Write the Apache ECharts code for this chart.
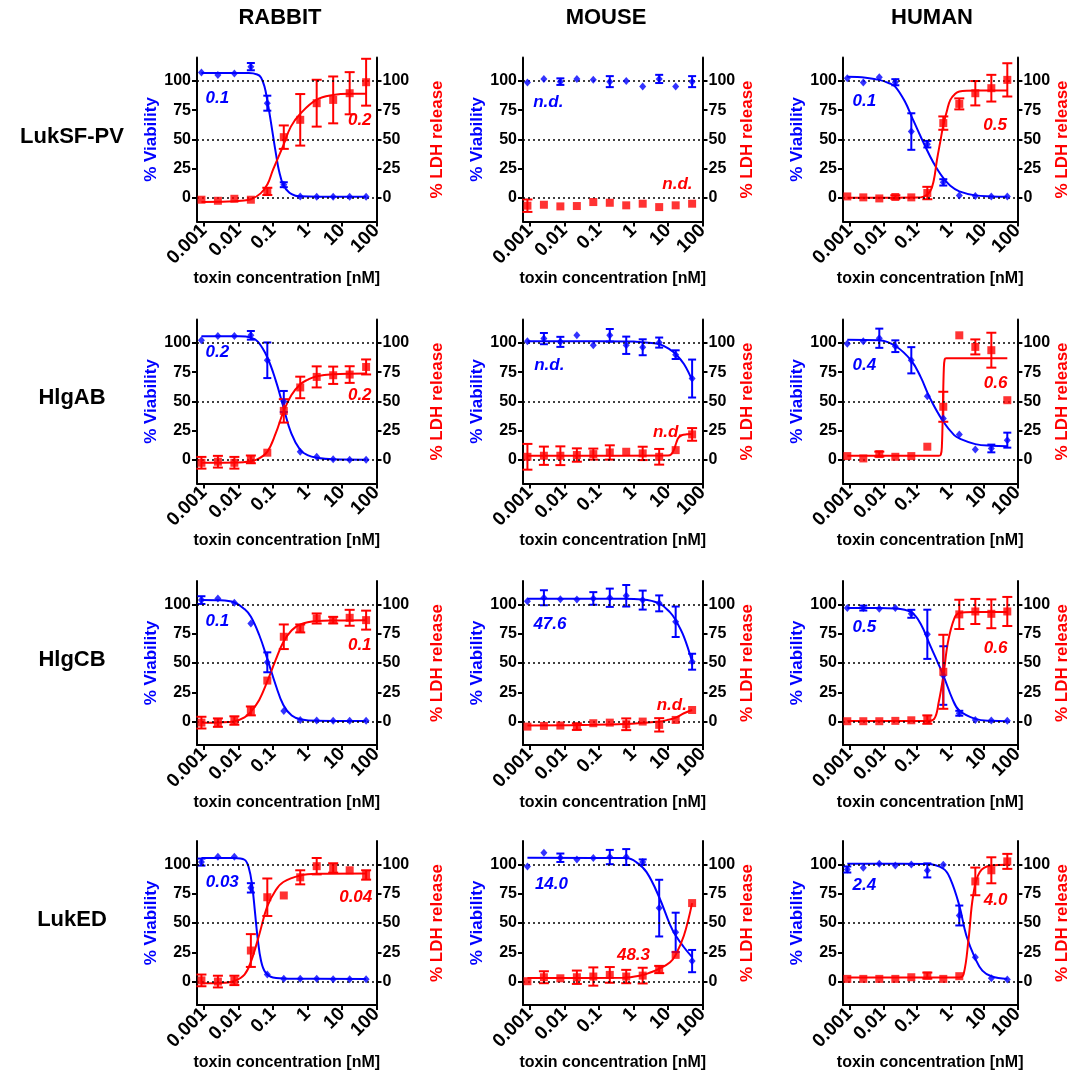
<!DOCTYPE html>
<html>
<head>
<meta charset="utf-8">
<script src="https://cdn.jsdelivr.net/npm/echarts@6/dist/echarts.min.js"></script>
<style>
html, body { margin: 0; padding: 0; background: #fff; }
#main { width: 1072px; height: 1073px; }
</style>
</head>
<body>
<div id="main"></div>
<script>
// toxin concentrations (nM), 3-fold dilutions from 50 nM
var conc = [0.000847, 0.00254, 0.00762, 0.0229, 0.0686, 0.206, 0.617, 1.85, 5.56, 16.7, 50];
var xTicks = [0.001, 0.01, 0.1, 1, 10, 100];
var yTicks = [0, 25, 50, 75, 100];
var gridLines = [0, 50, 100];
var species = ['RABBIT', 'MOUSE', 'HUMAN'];
var toxins = ['LukSF-PV', 'HlgAB', 'HlgCB', 'LukED'];

// ---- LukSF-PV ----
var rabSF_via = [107.1, 105.1, 106.3, 112.2, 81, 11.4, 1.4, 1.2, 1.2, 1.2, 1.2];
var rabSF_viaErr = [0, 0, 0, 3.1, 6.4, 2.1, 0, 0, 0, 0, 0];
var rabSF_ldh = [-1.4, -2.3, -0.6, -1.4, 5.7, 52, 66.8, 81, 83.8, 89.5, 98.9];
var rabSF_ldhErr = [0, 0, 0, 0, 3.1, 10, 22, 20, 20, 18, 20];
var rabSF_viaFit = [[0.000847, 106.8], [0.02, 106.7], [0.035, 105.5], [0.045, 103], [0.057, 95], [0.068, 84], [0.085, 67], [0.102, 52], [0.125, 36], [0.148, 24], [0.2, 11], [0.3, 4.5], [0.45, 2], [0.62, 1.5], [2, 1.2], [50, 1.2]];
var rabSF_ldhFit = [[0.000847, -3.3], [0.005, -3], [0.012, -2.2], [0.023, -1], [0.044, 4], [0.07, 12], [0.1, 24], [0.2, 45], [0.33, 61], [0.62, 72], [1.85, 84], [5.56, 88], [16.7, 89], [50, 89]];
var rabSF_notes = ['0.1', '0.2'];

var mouSF_via = [98.6, 101.7, 99.4, 101.7, 100.9, 99.4, 100, 95.2, 101.7, 95.2, 99.4];
var mouSF_viaErr = [0, 0, 2.8, 0, 0, 4.7, 0, 0, 3.5, 0, 4.7];
var mouSF_ldh = [-6.5, -5.7, -7.1, -6.8, -3.4, -4, -6.2, -4.8, -7.7, -6.2, -4.8];
var mouSF_ldhErr = [5.3, 0, 0, 0, 0, 0, 0, 0, 0, 0, 0];
var mouSF_viaFit = [];
var mouSF_ldhFit = [];
var mouSF_notes = ['n.d.', 'n.d.'];

var humSF_via = [102.3, 98.6, 103.1, 98.9, 56.8, 46, 13.4, 2.3, 1.7, 1.4, 1.4];
var humSF_viaErr = [0, 0, 0, 2.6, 15.6, 2.8, 2.7, 0, 0, 0, 0];
var humSF_ldh = [1.4, 0.6, -0.3, 0.9, 0.6, 4.3, 64, 80.4, 89.5, 93.8, 100.9];
var humSF_ldhErr = [0, 0, 0, 1.5, 0, 5.3, 5.7, 4.7, 10.4, 11.4, 14.2];
var humSF_viaFit = [[0.000847, 103.5], [0.003, 102.8], [0.0076, 100.9], [0.015, 98], [0.023, 95], [0.045, 82], [0.07, 69.6], [0.13, 52.6], [0.25, 35.5], [0.4, 25], [0.62, 17], [1.0, 10.5], [1.85, 5.7], [5.56, 2.3], [16.7, 1.4], [50, 1.1]];
var humSF_ldhFit = [[0.000847, 0.3], [0.1, 0.4], [0.16, 1.2], [0.25, 5.7], [0.32, 15], [0.4, 32.7], [0.5, 48], [0.62, 62.5], [0.8, 75], [1.0, 83.8], [1.4, 89], [1.85, 91], [3, 91.7], [50, 91.8]];
var humSF_notes = ['0.1', '0.5'];

// ---- HlgAB ----
var rabAB_via = [102.3, 106, 106, 106.5, 85.2, 50, 7.1, 2.8, 0.6, 0.3, 0.3];
var rabAB_viaErr = [0, 0, 0, 3.7, 15.2, 9, 0, 0, 0, 0, 0];
var rabAB_ldh = [-2.3, -1.4, -2.3, 0.6, 6.3, 42, 62, 71, 72.4, 73, 79.5];
var rabAB_ldhErr = [5, 5, 5, 3.3, 0, 10, 9.2, 9, 7.4, 7.1, 6.4];
var rabAB_viaFit = [[0.000847, 105.7], [0.01, 105.6], [0.023, 104.5], [0.037, 100.9], [0.068, 88], [0.12, 68], [0.2, 45.5], [0.34, 22.7], [0.62, 8.5], [1.0, 4.2], [1.85, 2], [5.56, 0.6], [50, 0.3]];
var rabAB_ldhFit = [[0.000847, -2.3], [0.01, -2.1], [0.02, -1.2], [0.035, 0.5], [0.068, 7], [0.12, 22.7], [0.2, 41.2], [0.34, 55.4], [0.62, 64.8], [1.0, 68.5], [1.85, 71.6], [5.56, 73.3], [50, 73.9]];
var rabAB_notes = ['0.2', '0.2'];

var mouAB_via = [101.4, 103.7, 100.9, 106.5, 98, 106.5, 98, 96.3, 100.3, 90, 69.6];
var mouAB_viaErr = [0, 4.8, 4.3, 0, 0, 5.4, 7.4, 6.8, 4.3, 3.7, 16.2];
var mouAB_ldh = [2.8, 3.7, 3.7, 4.3, 5.1, 6.5, 7.1, 5.7, 2.8, 8.5, 21.9];
var mouAB_ldhErr = [11, 7.8, 8, 5.7, 4.7, 6.1, 0, 5.7, 6.7, 0, 5.4];
var mouAB_viaFit = [[0.000847, 101.5], [0.1, 101.5], [1, 101.2], [1.85, 100.5], [5.56, 99], [11.5, 94.3], [16.7, 90.5], [29, 82], [50, 68.2]];
var mouAB_ldhFit = [[0.000847, 3.7], [10, 3.8], [12.5, 5], [15, 9], [17.5, 15], [20, 19], [25, 21.2], [35, 22], [50, 22.2]];
var mouAB_notes = ['n.d.', 'n.d.'];

var humAB_via = [99.4, 101.4, 104, 97.2, 85.2, 54.5, 35.5, 21.9, 9.1, 9.9, 17];
var humAB_viaErr = [0, 0, 8.2, 5, 11.2, 0, 0, 0, 0, 3.3, 6.4];
var humAB_ldh = [3.4, 1.4, 5.1, 2.8, 3.4, 11.4, 45.5, 106.5, 96.6, 93.8, 51.1];
var humAB_ldhErr = [0, 0, 2.1, 0, 0, 0, 12.8, 0, 6.4, 14.9, 0];
var humAB_viaFit = [[0.000847, 102.8], [0.0076, 102.3], [0.023, 97.4], [0.068, 85], [0.13, 71], [0.25, 52.6], [0.62, 32.7], [1.3, 21.3], [1.85, 18.5], [5.56, 13.6], [16.7, 12.2], [50, 11.9]];
var humAB_ldhFit = [[0.000847, 3.7], [0.45, 3.7], [0.52, 4.5], [0.56, 12], [0.6, 45], [0.64, 78], [0.68, 86], [0.75, 87], [50, 87]];
var humAB_notes = ['0.4', '0.6'];

// ---- HlgCB ----
var rabCB_via = [103.7, 105.1, 101.4, 83.8, 50.6, 9.1, 1.4, 0.9, 0.6, 0.6, 0.6];
var rabCB_viaErr = [3.3, 0, 0, 0, 8.5, 0, 0, 0, 0, 0, 0];
var rabCB_ldh = [-0.9, -0.9, 0.9, 9.1, 35, 72.4, 79.5, 88, 86.6, 88.6, 86.6];
var rabCB_ldhErr = [5, 3.6, 3.6, 3.8, 0, 10.5, 3.4, 4.3, 2.8, 6.8, 8.1];
var rabCB_viaFit = [[0.000847, 103.7], [0.003, 103.5], [0.0076, 101.7], [0.015, 96], [0.023, 89.5], [0.04, 73.9], [0.068, 54], [0.12, 31.2], [0.2, 14.2], [0.35, 5.1], [0.62, 2], [1.85, 0.6], [50, 0.5]];
var rabCB_ldhFit = [[0.000847, -0.9], [0.003, -0.7], [0.0076, 0.2], [0.015, 3.5], [0.023, 8.5], [0.04, 18.5], [0.068, 34], [0.12, 52.6], [0.2, 68], [0.35, 78], [0.62, 83], [1.85, 85.8], [5.56, 86.3], [50, 86.4]];
var rabCB_notes = ['0.1', '0.1'];

var mouCB_via = [102.8, 105.7, 104.5, 104.3, 105.1, 105.7, 107.4, 103.7, 100.9, 85.2, 51.1];
var mouCB_viaErr = [0, 6.4, 0, 0, 5.4, 7.8, 9.2, 8.1, 6.8, 13, 6.8];
var mouCB_ldh = [-4.3, -3.7, -3.4, -4.3, -1.4, -0.9, -2.3, 0, -2.8, 1.4, 9.9];
var mouCB_ldhErr = [0, 0, 0, 2.8, 0, 0, 5, 0, 5.7, 0, 0];
var mouCB_viaFit = [[0.000847, 104.8], [0.5, 104.8], [1.85, 104.3], [5.56, 100.9], [11.5, 93.2], [16.7, 86.6], [29, 72.4], [50, 51.1]];
var mouCB_ldhFit = [[0.000847, -3.4], [0.07, -2.8], [0.62, -2], [1.85, -1.1], [5.56, 0], [10, 1.5], [16.7, 3.4], [29, 7.1], [50, 9.9]];
var mouCB_notes = ['47.6', 'n.d.'];

var humCB_via = [96.9, 96.9, 96.3, 96.9, 92, 74.5, 39.3, 7.1, 1.4, 0.9, 0.6];
var humCB_viaErr = [0, 2.1, 0, 0, 3.4, 21, 25, 2.1, 0, 0, 0];
var humCB_ldh = [0.3, 0.3, 0.3, 0.6, 1.1, 1.7, 42.5, 91.5, 94, 92, 94];
var humCB_ldhErr = [0, 0, 0, 0, 0, 3.6, 31.6, 12.5, 10.7, 12.3, 12.4];
var humCB_viaFit = [[0.000847, 96.9], [0.0076, 96.9], [0.023, 96.6], [0.068, 93.4], [0.13, 83.5], [0.25, 65], [0.62, 39.3], [1.15, 19.4], [1.85, 9.4], [5.56, 2.3], [16.7, 0.6], [50, 0.3]];
var humCB_ldhFit = [[0.000847, 0.5], [0.2, 0.5], [0.33, 2.3], [0.45, 16.5], [0.62, 39.3], [0.85, 67.8], [1.3, 87.7], [1.85, 92.6], [5, 93.5], [50, 93.5]];
var humCB_notes = ['0.5', '0.6'];

// ---- LukED ----
var rabED_via = [102, 106.5, 106.5, 80, 6, 2.5, 2.5, 2.5, 2, 2, 2];
var rabED_viaErr = [3, 0, 0, 4, 0, 0, 0, 0, 0, 0, 0];
var rabED_ldh = [1, 0, 1, 26.5, 72, 73.5, 89, 98.5, 97, 95, 91];
var rabED_ldhErr = [5, 5, 4, 14, 16, 0, 6, 7, 4, 0, 4];
var rabED_viaFit = [[0.000847, 105.5], [0.0076, 105.5], [0.015, 104], [0.02, 97], [0.025, 82], [0.03, 60], [0.036, 37], [0.045, 18], [0.06, 8], [0.1, 3.5], [0.3, 2.5], [50, 2.3]];
var rabED_ldhFit = [[0.000847, -1.5], [0.004, -1], [0.0076, 0.5], [0.015, 6], [0.023, 17], [0.04, 40], [0.068, 64], [0.12, 78], [0.2, 85], [0.62, 90.5], [1.85, 92], [50, 92.3]];
var rabED_notes = ['0.03', '0.04'];

var mouED_via = [98.3, 110, 105.7, 104.3, 105.4, 106.3, 106.3, 102, 62.7, 42, 17.5];
var mouED_viaErr = [0, 0, 3.6, 0, 0, 6.1, 6.8, 2.3, 24.2, 16.8, 9.5];
var mouED_ldh = [0.3, 3.7, 2.8, 3.7, 4.3, 5.7, 4.3, 5.1, 10.3, 22.8, 67];
var mouED_ldhErr = [0, 5.1, 0, 5.7, 7.8, 6.7, 5.7, 6.7, 3.1, 0, 0];
var mouED_viaFit = [[0.000847, 105.7], [0.62, 105.4], [1.2, 102], [2.4, 93.4], [5.56, 72], [11.5, 48.4], [16.7, 39.3], [29, 29.3], [50, 20.8]];
var mouED_ldhFit = [[0.000847, 3], [0.5, 3.2], [1.6, 5.1], [3.2, 8], [5.56, 10.8], [11.5, 16.5], [16.7, 22.8], [29, 39.3], [50, 67]];
var mouED_notes = ['14.0', '48.3'];

var humED_via = [95.7, 97.2, 100.6, 99.1, 100, 94.9, 99.7, 56.4, 20.8, 2.8, 1.7];
var humED_viaErr = [2.6, 0, 0, 0, 0, 6, 0, 8.5, 0, 0, 0];
var humED_ldh = [2.3, 2.3, 2.3, 2.3, 3.7, 5.1, 2.3, 4.6, 85.5, 95, 102.6];
var humED_ldhErr = [0, 0, 0, 0, 0, 2.6, 0, 0, 11.8, 11.1, 6.4];
var humED_viaFit = [[0.000847, 100.6], [0.2, 100.3], [0.62, 96.3], [1.0, 87.7], [1.85, 65], [3.0, 39.3], [5.56, 19.4], [9, 9.4], [16.7, 4.6], [50, 2.3]];
var humED_ldhFit = [[0.000847, 3.4], [1.85, 3.5], [2.5, 6.5], [3.5, 36.5], [4.8, 73.5], [7.5, 93.4], [16.7, 99.1], [50, 99.7]];
var humED_notes = ['2.4', '4.0'];

var BLUE = '#0000ff', RED = '#ff0000';
var FONT = '"Liberation Sans", Arial, sans-serif';

var colLeft = [197, 523, 843];
var rowTop = [57.5, 319.5, 581, 841];
var gridW = 179.5, gridH = 164;
var rightNameGap = [52, 31, 31];

// row, col, data, note positions [x, y] for blue and red note
var panels = [
  { r: 0, c: 0, via: rabSF_via, viaErr: rabSF_viaErr, ldh: rabSF_ldh, ldhErr: rabSF_ldhErr, viaFit: rabSF_viaFit, ldhFit: rabSF_ldhFit, notes: rabSF_notes, notePos: [[0.00244, 85], [32.7, 66.8]] },
  { r: 0, c: 1, via: mouSF_via, viaErr: mouSF_viaErr, ldh: mouSF_ldh, ldhErr: mouSF_ldhErr, viaFit: mouSF_viaFit, ldhFit: mouSF_ldhFit, notes: mouSF_notes, notePos: [[0.0034, 81.5], [18.8, 11.4]] },
  { r: 0, c: 2, via: humSF_via, viaErr: humSF_viaErr, ldh: humSF_ldh, ldhErr: humSF_ldhErr, viaFit: humSF_viaFit, ldhFit: humSF_ldhFit, notes: humSF_notes, notePos: [[0.00272, 82.4], [21.6, 62.5]] },
  { r: 1, c: 0, via: rabAB_via, viaErr: rabAB_viaErr, ldh: rabAB_ldh, ldhErr: rabAB_ldhErr, viaFit: rabAB_viaFit, ldhFit: rabAB_ldhFit, notes: rabAB_notes, notePos: [[0.00244, 92.3], [32.7, 55.4]] },
  { r: 1, c: 1, via: mouAB_via, viaErr: mouAB_viaErr, ldh: mouAB_ldh, ldhErr: mouAB_ldhErr, viaFit: mouAB_viaFit, ldhFit: mouAB_ldhFit, notes: mouAB_notes, notePos: [[0.00363, 81], [10, 24.1]] },
  { r: 1, c: 2, via: humAB_via, viaErr: humAB_viaErr, ldh: humAB_ldh, ldhErr: humAB_ldhErr, viaFit: humAB_viaFit, ldhFit: humAB_ldhFit, notes: humAB_notes, notePos: [[0.00272, 81], [22.4, 65.9]] },
  { r: 2, c: 0, via: rabCB_via, viaErr: rabCB_viaErr, ldh: rabCB_ldh, ldhErr: rabCB_ldhErr, viaFit: rabCB_viaFit, ldhFit: rabCB_ldhFit, notes: rabCB_notes, notePos: [[0.00244, 85.2], [32.7, 65.3]] },
  { r: 2, c: 1, via: mouCB_via, viaErr: mouCB_viaErr, ldh: mouCB_ldh, ldhErr: mouCB_ldhErr, viaFit: mouCB_viaFit, ldhFit: mouCB_ldhFit, notes: mouCB_notes, notePos: [[0.0038, 83], [12.9, 14.2]] },
  { r: 2, c: 2, via: humCB_via, viaErr: humCB_viaErr, ldh: humCB_ldh, ldhErr: humCB_ldhErr, viaFit: humCB_viaFit, ldhFit: humCB_ldhFit, notes: humCB_notes, notePos: [[0.00272, 80.6], [22.4, 62.7]] },
  { r: 3, c: 0, via: rabED_via, viaErr: rabED_viaErr, ldh: rabED_ldh, ldhErr: rabED_ldhErr, viaFit: rabED_viaFit, ldhFit: rabED_ldhFit, notes: rabED_notes, notePos: [[0.0034, 85], [25, 72]] },
  { r: 3, c: 1, via: mouED_via, viaErr: mouED_viaErr, ldh: mouED_ldh, ldhErr: mouED_ldhErr, viaFit: mouED_viaFit, ldhFit: mouED_ldhFit, notes: mouED_notes, notePos: [[0.0042, 82.6], [1.0, 22.8]] },
  { r: 3, c: 2, via: humED_via, viaErr: humED_viaErr, ldh: humED_ldh, ldhErr: humED_ldhErr, viaFit: humED_viaFit, ldhFit: humED_ldhFit, notes: humED_notes, notePos: [[0.00272, 82], [22.4, 69.2]] }
];

function pts(ys) {
  return conc.map(function (x, k) { return [x, ys[k]]; });
}
function bars(ys, es) {
  var out = [];
  conc.forEach(function (x, k) {
    if (es[k] > 0) out.push([x, ys[k] - es[k], ys[k] + es[k]]);
  });
  return out;
}
function errRender(cap) {
  return function (params, api) {
    var top = api.coord([api.value(0), api.value(2)]);
    var bot = api.coord([api.value(0), api.value(1)]);
    var st = { stroke: api.visual('color'), lineWidth: 2 };
    return {
      type: 'group',
      children: [
        { type: 'line', shape: { x1: top[0], y1: top[1], x2: bot[0], y2: bot[1] }, style: st },
        { type: 'line', shape: { x1: top[0] - cap, y1: top[1], x2: top[0] + cap, y2: top[1] }, style: st },
        { type: 'line', shape: { x1: bot[0] - cap, y1: bot[1], x2: bot[0] + cap, y2: bot[1] }, style: st }
      ]
    };
  };
}

var axisLine = { show: true, onZero: false, lineStyle: { color: '#000', width: 2 } };
var tickLbl = { fontSize: 16, fontWeight: 'bold', color: '#000', fontFamily: FONT };

var grids = [], xAxes = [], yAxes = [], series = [];

panels.forEach(function (p, i) {
  grids.push({ left: colLeft[p.c], top: rowTop[p.r], width: gridW, height: gridH });
  xAxes.push({
    type: 'log', logBase: 10, gridIndex: i, min: 0.00063, max: 100,
    axisLine: axisLine,
    axisTick: { show: true, customValues: xTicks, length: 5, lineStyle: { color: '#000', width: 2 } },
    minorTick: { show: false },
    axisLabel: Object.assign({}, tickLbl, { customValues: xTicks, rotate: 45, margin: 6, fontSize: 19,
      formatter: function (v) { return String(+(+v).toPrecision(6)); } }),
    splitLine: { show: false },
    name: 'toxin concentration [nM]', nameLocation: 'middle', nameGap: 43,
    nameTextStyle: { fontSize: 16, fontWeight: 'bold', color: '#000', fontFamily: FONT }
  });
  [['left', '% Viability', BLUE, 37], ['right', '% LDH release', RED, rightNameGap[p.c]]].forEach(function (a) {
    yAxes.push({
      type: 'value', gridIndex: i, position: a[0], min: -20, max: 120,
      axisLine: axisLine,
      axisTick: { show: true, customValues: yTicks, length: 5, lineStyle: { color: '#000', width: 2 } },
      axisLabel: Object.assign({ customValues: yTicks, margin: 6 }, tickLbl),
      splitLine: { show: false },
      name: a[1], nameLocation: 'middle', nameGap: a[3],
      nameTextStyle: { fontSize: 17, fontWeight: 'bold', color: a[2], fontFamily: FONT }
    });
  });
  var yl = 2 * i, yr = 2 * i + 1;
  var noteLabel = function (col) {
    return { show: true, position: 'inside', color: col, fontSize: 17, fontWeight: 'bold', fontStyle: 'italic', fontFamily: FONT };
  };
  series.push({
    type: 'line', xAxisIndex: i, yAxisIndex: yl, data: p.viaFit, smooth: 0.4, showSymbol: false,
    lineStyle: { color: BLUE, width: 2 }, z: 3
  });
  series.push({
    type: 'line', xAxisIndex: i, yAxisIndex: yr, data: p.ldhFit, smooth: 0.4, showSymbol: false,
    lineStyle: { color: RED, width: 2 }, z: 3
  });
  series.push({
    type: 'custom', xAxisIndex: i, yAxisIndex: yl, data: bars(p.via, p.viaErr),
    encode: { x: 0, y: [1, 2] }, renderItem: errRender(4), itemStyle: { color: BLUE }, z: 4
  });
  series.push({
    type: 'custom', xAxisIndex: i, yAxisIndex: yr, data: bars(p.ldh, p.ldhErr),
    encode: { x: 0, y: [1, 2] }, renderItem: errRender(5), itemStyle: { color: RED }, z: 4
  });
  series.push({
    type: 'scatter', xAxisIndex: i, yAxisIndex: yl, data: pts(p.via),
    symbol: 'diamond', symbolSize: [7, 8], itemStyle: { color: BLUE }, z: 5,
    markLine: {
      silent: true, symbol: 'none', label: { show: false },
      lineStyle: { color: '#000', type: [2, 3], width: 1.5 },
      data: gridLines.map(function (v) { return { yAxis: v }; })
    },
    markPoint: {
      symbol: 'circle', symbolSize: 1, itemStyle: { color: 'rgba(0,0,0,0)' },
      data: [{ coord: p.notePos[0], value: p.notes[0], label: Object.assign(noteLabel(BLUE), { formatter: p.notes[0] }) }]
    }
  });
  series.push({
    type: 'scatter', xAxisIndex: i, yAxisIndex: yr, data: pts(p.ldh),
    symbol: 'rect', symbolSize: 8, itemStyle: { color: RED }, z: 5,
    markPoint: {
      symbol: 'circle', symbolSize: 1, itemStyle: { color: 'rgba(0,0,0,0)' },
      data: [{ coord: p.notePos[1], value: p.notes[1], label: Object.assign(noteLabel(RED), { formatter: p.notes[1] }) }]
    }
  });
});

var headX = [280, 606, 932];
var rowY = [137, 398, 660, 920];
var graphic = [];
species.forEach(function (s, c) {
  graphic.push({ type: 'text', x: headX[c], y: 18,
    style: { text: s, fontSize: 22, fontWeight: 'bold', fill: '#000', fontFamily: FONT, textAlign: 'center', textVerticalAlign: 'middle' } });
});
toxins.forEach(function (t, r) {
  graphic.push({ type: 'text', x: 72, y: rowY[r],
    style: { text: t, fontSize: 22, fontWeight: 'bold', fill: '#000', fontFamily: FONT, textAlign: 'center', textVerticalAlign: 'middle' } });
});

var chart = echarts.init(document.getElementById('main'));
chart.setOption({
  animation: false,
  backgroundColor: '#fff',
  textStyle: { fontFamily: FONT },
  grid: grids,
  xAxis: xAxes,
  yAxis: yAxes,
  series: series,
  graphic: graphic
});
</script>
</body>
</html>
